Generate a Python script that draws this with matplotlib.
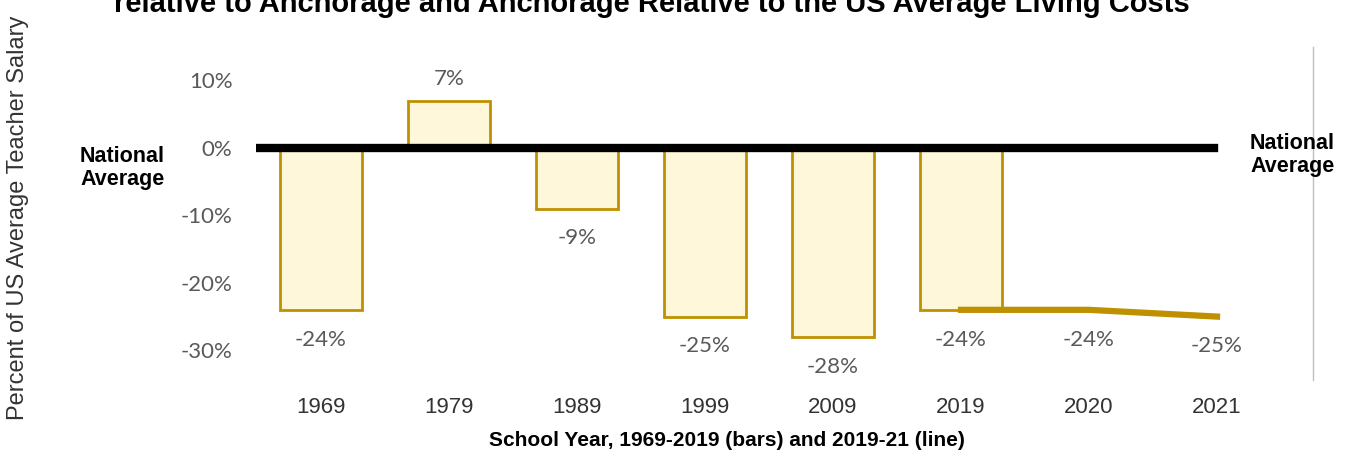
# Anchorage teacher salary vs national average, bars + line
import numpy as np
import matplotlib.pyplot as plt

years = ['1969', '1979', '1989', '1999', '2009', '2019', '2020', '2021']
bar_years = ['1969', '1979', '1989', '1999', '2009', '2019']
bar_values = [-24, 7, -9, -25, -28, -24]
line_years = ['2019', '2020', '2021']
line_values = [-24, -24, -25]
label_values = [-24, 7, -9, -25, -28, -24, -24, -25]

fill = '#fff7d9'
gold = '#bf9000'
gray = '#595959'

fig = plt.figure(figsize=(13.49, 4.55), dpi=100)
ax = fig.add_axes([256/1349, 1 - 380/455, 1057/1349, 333/455])

x = np.arange(len(years))
bx = [years.index(y) for y in bar_years]
lx = [years.index(y) for y in line_years]

ax.bar(bx, bar_values, width=0.64, color=fill, edgecolor=gold, linewidth=2, zorder=2)
ax.plot(lx, line_values, color=gold, linewidth=4.5, zorder=3)

# national average line at 0
ax.axhline(0, xmin=0, xmax=0.906, color='black', linewidth=6, zorder=4)

# data labels under / over bars and line
for i, v in enumerate(label_values):
    if v > 0:
        ax.text(x[i], v + 3.2, f'{v}%', ha='center', va='center', fontsize=16,
                color=gray, family='Lato')
    else:
        ax.text(x[i], v - 4.4, f'{v}%', ha='center', va='center', fontsize=16,
                color=gray, family='Lato')

ax.set_xlim(-0.508, 7.75)
ax.set_ylim(-34.4, 14.96)
ax.set_xticks(x)
ax.set_xticklabels(years, fontsize=16, color='#333333', family='Liberation Sans')
ax.set_yticks([10, 0, -10, -20, -30])
ax.set_yticklabels(['10%', '0%', '-10%', '-20%', '-30%'], fontsize=16, color=gray,
                   family='Lato')
ax.tick_params(axis='both', length=0)
ax.tick_params(axis='y', pad=17)
ax.tick_params(axis='x', pad=12)

for s in ['top', 'left', 'bottom']:
    ax.spines[s].set_visible(False)
ax.spines['right'].set_color('#bfbfbf')
ax.spines['right'].set_linewidth(1)

fig.text(80/1349, 1 - 168/455, 'National\nAverage', ha='left', va='center',
         fontsize=15.5, fontweight='bold', family='Liberation Sans', linespacing=1.15)
fig.text(1250/1349, 1 - 155/455, 'National\nAverage', ha='left', va='center',
         fontsize=15.5, fontweight='bold', family='Liberation Sans', linespacing=1.15)

fig.text(18/1349, 1 - 218/455, 'Percent of US Average Teacher Salary', rotation=90,
         ha='center', va='center', fontsize=17, color='#333333', family='Liberation Sans')
fig.text(727/1349, 1 - 440/455, 'School Year, 1969-2019 (bars) and 2019-21 (line)',
         ha='center', va='center', fontsize=15, fontweight='bold', family='Liberation Sans')
fig.text(652/1349, 1 - 4/455,
         'relative to Anchorage and Anchorage Relative to the US Average Living Costs',
         ha='center', va='center', fontsize=21, fontweight='bold', family='Liberation Sans')

fig.savefig('out.png', dpi=100)
